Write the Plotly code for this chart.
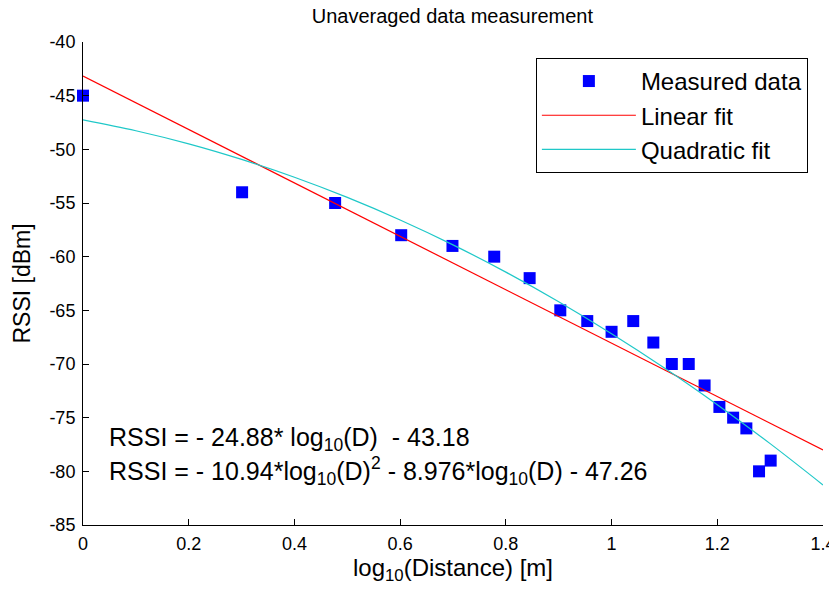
import plotly.graph_objects as go

# measured points: log10 of distance (1..20 m) and RSSI
log_dist = [0.0, 0.301, 0.477, 0.602, 0.699, 0.778, 0.845, 0.903, 0.954, 1.0,
            1.041, 1.079, 1.114, 1.146, 1.176, 1.204, 1.230, 1.255, 1.279, 1.301]
rssi = [-45, -54, -55, -58, -59, -60, -62, -65, -66, -67,
        -66, -68, -70, -70, -72, -74, -75, -76, -80, -79]

# fit curves
lin_x = [0.0, 1.4]
lin_y = [-43.18, -78.01]
quad_x = [0.0, 0.1, 0.2, 0.3, 0.4, 0.5, 0.6, 0.7, 0.8, 0.9, 1.0, 1.1, 1.2, 1.3, 1.4]
quad_y = [-47.26, -48.27, -49.49, -50.94, -52.60, -54.48, -56.58, -58.90,
          -61.44, -64.20, -67.18, -70.37, -73.79, -77.42, -81.27]

x_ticks = [0, 0.2, 0.4, 0.6, 0.8, 1, 1.2, 1.4]
x_labels = ["0", "0.2", "0.4", "0.6", "0.8", "1", "1.2", "1.4"]
y_ticks = [-85, -80, -75, -70, -65, -60, -55, -50, -45, -40]
y_labels = ["-85", "-80", "-75", "-70", "-65", "-60", "-55", "-50", "-45", "-40"]

font = "Liberation Sans, Arial, sans-serif"

fig = go.Figure()
fig.add_trace(go.Scatter(
    x=log_dist, y=rssi, mode="markers", name="Measured data",
    marker=dict(symbol="square", size=12, color="#0000ff", line=dict(width=0)),
    cliponaxis=False,
))
fig.add_trace(go.Scatter(
    x=lin_x, y=lin_y, mode="lines", name="Linear fit",
    line=dict(color="#ff0000", width=1.2),
))
fig.add_trace(go.Scatter(
    x=quad_x, y=quad_y, mode="lines", name="Quadratic fit",
    line=dict(color="#1fc8c8", width=1.2, shape="spline"),
))

fig.add_annotation(
    x=0.045, y=-77.0, xref="x", yref="y", xanchor="left", yanchor="middle",
    text="RSSI = - 24.88* log<sub>10</sub>(D)  - 43.18", showarrow=False,
    font=dict(family=font, size=25, color="#000000"),
)
fig.add_annotation(
    x=0.045, y=-79.95, xref="x", yref="y", xanchor="left", yanchor="middle",
    text="RSSI = - 10.94*log<sub>10</sub>(D)<sup>2</sup> - 8.976*log<sub>10</sub>(D) - 47.26",
    showarrow=False,
    font=dict(family=font, size=25, color="#000000"),
)

# page body adds an 8px offset, so the figure is sized 829x589
fig.update_layout(
    width=829, height=589,
    margin=dict(l=75, r=14, t=34, b=72, autoexpand=False),
    paper_bgcolor="white", plot_bgcolor="white",
    font=dict(family=font, color="#000000", size=18),
    title=dict(text="Unaveraged data measurement", x=0.536, xanchor="center",
               y=0.999, yanchor="top", font=dict(size=20)),
    legend=dict(
        x=0.612, y=0.967, xanchor="left", yanchor="top",
        bordercolor="#000000", borderwidth=1, bgcolor="white",
        font=dict(size=24), itemwidth=94, tracegroupgap=0,
    ),
    showlegend=True,
)
fig.update_xaxes(
    range=[0, 1.4], tickvals=x_ticks, ticktext=x_labels, automargin=False,
    ticks="inside", ticklen=6, tickcolor="#000000", ticklabelstandoff=2,
    showline=True, linecolor="#000000", linewidth=1, mirror=False,
    showgrid=False, zeroline=False,
    title=dict(text="log<sub>10</sub>(Distance) [m]", font=dict(size=24), standoff=5),
    tickfont=dict(size=18),
)
fig.update_yaxes(
    range=[-85, -40], tickvals=y_ticks, ticktext=y_labels, automargin=False,
    ticks="inside", ticklen=6, tickcolor="#000000", ticklabelstandoff=3,
    showline=True, linecolor="#000000", linewidth=1, mirror=False,
    showgrid=False, zeroline=False,
    title=dict(text="RSSI [dBm]", font=dict(size=23), standoff=12),
    tickfont=dict(size=18),
)

fig.write_html("out.html")
